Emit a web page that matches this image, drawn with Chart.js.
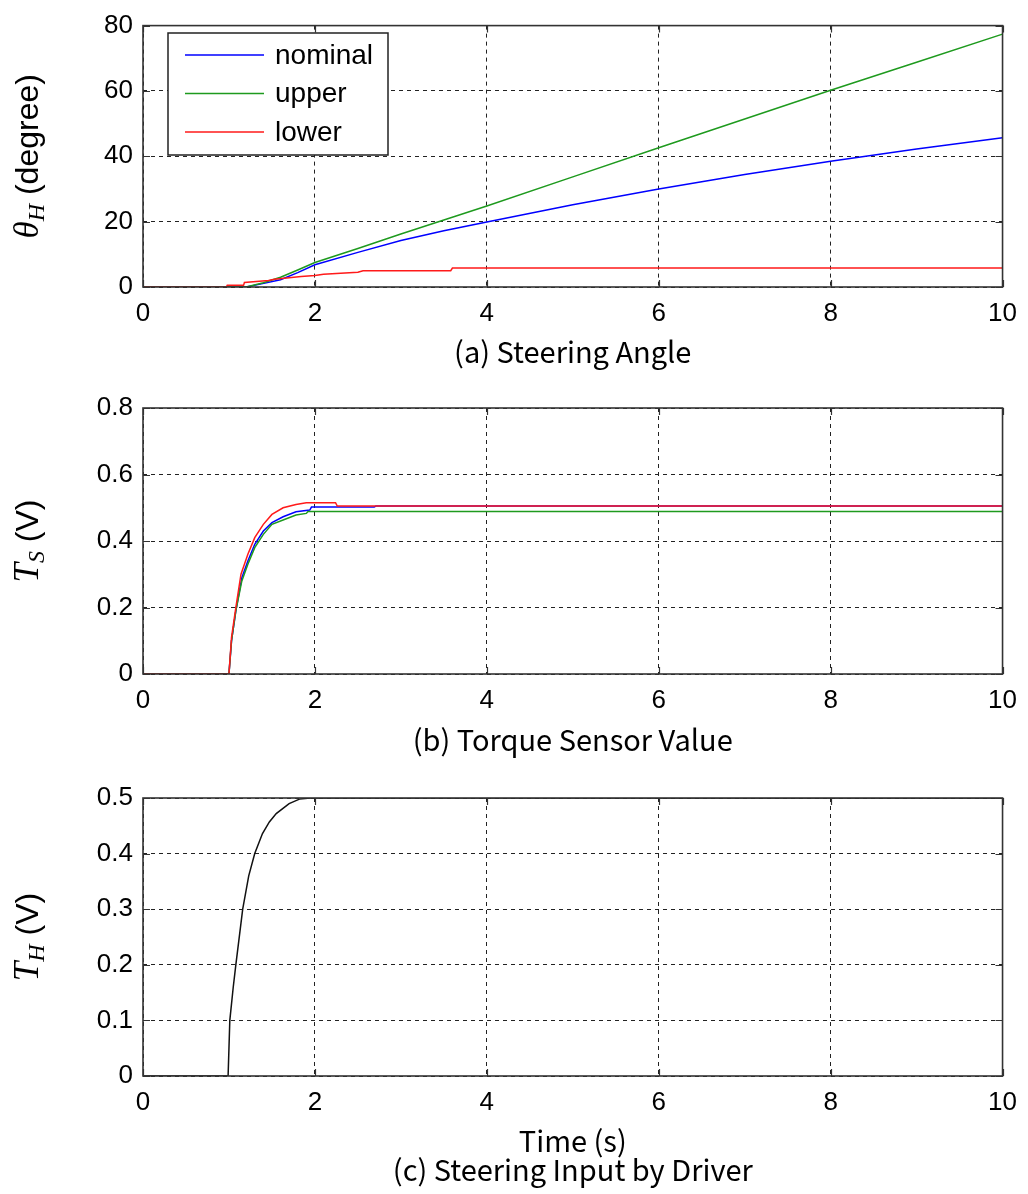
<!DOCTYPE html>
<html>
<head>
<meta charset="utf-8">
<script src="https://cdn.jsdelivr.net/npm/chart.js@4.4.1/dist/chart.umd.min.js"></script>
<style>
  body { margin: 0; background: #fff; }
  #wrap { position: relative; width: 1028px; height: 1194px; }
  #wrap canvas { position: absolute; left: 0; }
</style>
</head>
<body>
<div id="wrap">
  <canvas id="angle" width="1028" height="380" style="top:0px"></canvas>
  <canvas id="sensor" width="1028" height="380" style="top:380px"></canvas>
  <canvas id="input" width="1028" height="434" style="top:760px"></canvas>
</div>
<script>
// shared time axis (s)
const timeMin = 0, timeMax = 10, timeStep = 2;

// (a) steering angle theta_H (degree)
const angleNomT = [0, 1.2, 1.35, 1.6, 1.8, 2, 2.5, 3, 3.5, 4, 5, 6, 7, 8, 9, 10];
const angleNomV = [0, 0, 0.8, 2.2, 4.4, 6.8, 10.6, 14.2, 17.2, 19.9, 25.2, 30.0, 34.4, 38.5, 42.2, 45.7];
const angleUpT = [0, 1.2, 1.4, 1.6, 1.8, 2, 2.5, 3, 3.5, 4, 5, 6, 7, 8, 9, 10];
const angleUpV = [0, 0, 1.3, 3.0, 5.2, 7.5, 11.8, 16.2, 20.5, 24.8, 33.7, 42.6, 51.4, 60.2, 68.8, 77.4];
const angleLowT = [0, 0.97, 0.98, 1.17, 1.18, 1.46, 1.53, 1.84, 2.0, 2.1, 2.5, 2.56, 3.58, 3.6, 10];
const angleLowV = [0, 0, 0.5, 0.5, 1.4, 2.0, 2.4, 3.2, 3.5, 3.9, 4.5, 5.0, 5.0, 5.8, 5.8];

// (b) torque sensor value T_S (V)
const sensNomT = [0, 1.0, 1.03, 1.08, 1.15, 1.22, 1.3, 1.4, 1.5, 1.63, 1.78, 1.94, 1.96, 2.69, 2.71, 10];
const sensNomV = [0, 0, 0.1, 0.19, 0.29, 0.34, 0.39, 0.43, 0.455, 0.473, 0.488, 0.493, 0.502, 0.502, 0.505, 0.505];
const sensUpT = [0, 1.0, 1.03, 1.08, 1.15, 1.22, 1.3, 1.4, 1.5, 1.63, 1.78, 1.9, 1.92, 10];
const sensUpV = [0, 0, 0.1, 0.19, 0.28, 0.33, 0.38, 0.42, 0.45, 0.463, 0.478, 0.483, 0.489, 0.489];
const sensLowT = [0, 1.0, 1.03, 1.08, 1.14, 1.22, 1.3, 1.4, 1.5, 1.63, 1.78, 1.9, 2.24, 2.26, 10];
const sensLowV = [0, 0, 0.11, 0.2, 0.3, 0.36, 0.41, 0.45, 0.48, 0.50, 0.51, 0.515, 0.515, 0.505, 0.505];

// (c) steering input by driver T_H (V)
const inputT = [0, 0.99, 1.01, 1.05, 1.08, 1.16, 1.23, 1.3, 1.39, 1.47, 1.55, 1.7, 1.82, 1.95, 10];
const inputV = [0, 0, 0.1, 0.16, 0.2, 0.3, 0.36, 0.4, 0.436, 0.457, 0.472, 0.49, 0.498, 0.5, 0.5];

const seriesNames = ['nominal', 'upper', 'lower'];
const seriesColors = ['#0000ff', '#1e9a1e', '#ff1a1a'];

const tickFont = { family: '"Liberation Sans", Arial, sans-serif', size: 26 };
const capFont = '29px "Noto Sans CJK JP", sans-serif';

function pts(ts, vs) {
  return ts.map((t, i) => ({ x: t, y: vs[i] }));
}

function line(label, data, color, order) {
  return {
    label, data, order,
    borderColor: color, borderWidth: 1.5,
    pointRadius: 0, tension: 0, fill: false
  };
}

// rotated axis title made of several font runs (subscripts etc.)
function drawRich(ctx, runs, cx, cy) {
  let w = 0;
  runs.forEach(r => { ctx.font = r[1]; w += ctx.measureText(r[0]).width; });
  ctx.save();
  ctx.translate(cx, cy);
  ctx.rotate(-Math.PI / 2);
  ctx.textBaseline = 'middle';
  ctx.textAlign = 'left';
  let x = -w / 2;
  runs.forEach(r => {
    ctx.font = r[1];
    ctx.fillText(r[0], x, r[2]);
    x += ctx.measureText(r[0]).width;
  });
  ctx.restore();
}

const decor = {
  id: 'decor',
  afterDraw(chart, args, o) {
    const { ctx, chartArea: a, scales } = chart;
    ctx.save();
    ctx.strokeStyle = '#333';
    ctx.lineWidth = 1.2;
    ctx.beginPath();
    scales.x.ticks.forEach(t => {
      const px = Math.round(scales.x.getPixelForValue(t.value)) + 0.5;
      ctx.moveTo(px, a.bottom); ctx.lineTo(px, a.bottom - 7);
      ctx.moveTo(px, a.top); ctx.lineTo(px, a.top + 7);
    });
    scales.y.ticks.forEach(t => {
      const py = Math.round(scales.y.getPixelForValue(t.value)) + 0.5;
      ctx.moveTo(a.left, py); ctx.lineTo(a.left + 7, py);
      ctx.moveTo(a.right, py); ctx.lineTo(a.right - 7, py);
    });
    ctx.stroke();
    ctx.lineWidth = 1.6;
    ctx.strokeRect(a.left, a.top, a.right - a.left, a.bottom - a.top);

    if (o.legend) {
      const lx = 168, ly = 33, lw = 220, lh = 122;
      ctx.fillStyle = '#fff';
      ctx.fillRect(lx, ly, lw, lh);
      ctx.strokeStyle = '#222';
      ctx.lineWidth = 1.5;
      ctx.strokeRect(lx, ly, lw, lh);
      ctx.font = '28px "Liberation Sans", Arial, sans-serif';
      ctx.textBaseline = 'middle';
      ctx.textAlign = 'left';
      chart.data.datasets.forEach((ds, i) => {
        const y = 55 + i * 38.5;
        ctx.strokeStyle = ds.borderColor;
        ctx.lineWidth = 1.5;
        ctx.beginPath();
        ctx.moveTo(185, y); ctx.lineTo(264, y);
        ctx.stroke();
        ctx.fillStyle = '#000';
        ctx.fillText(ds.label, 275, y + 1);
      });
    }

    ctx.fillStyle = '#000';
    drawRich(ctx, o.title, 29, (a.top + a.bottom) / 2);

    ctx.font = capFont;
    ctx.textAlign = 'center';
    ctx.textBaseline = 'middle';
    const cx = (a.left + a.right) / 2;
    if (o.xTitle) ctx.fillText(o.xTitle, cx, o.xTitleY);
    ctx.fillText(o.caption, cx, o.captionY);
    ctx.restore();
  }
};

function makePanel(id, datasets, yMax, yStep, top, bottom, deco) {
  const h = document.getElementById(id).height;
  return new Chart(document.getElementById(id), {
    type: 'line',
    data: { datasets },
    options: {
      responsive: false,
      animation: false,
      devicePixelRatio: 1,
      layout: { padding: { left: 0, right: 22, top: top, bottom: 0 } },
      scales: {
        x: {
          type: 'linear', min: timeMin, max: timeMax,
          ticks: { stepSize: timeStep, color: '#000', font: tickFont, padding: 11, maxRotation: 0 },
          grid: { color: '#222', lineWidth: 1, drawTicks: false },
          border: { display: false, dash: [4, 4] },
          afterFit(s) { s.height = h - bottom; }
        },
        y: {
          min: 0, max: yMax,
          ticks: { stepSize: yStep, color: '#000', font: tickFont, padding: 10 },
          grid: { color: '#222', lineWidth: 1, drawTicks: false },
          border: { display: false, dash: [4, 4] },
          afterFit(s) { s.width = 143; }
        }
      },
      plugins: {
        legend: { display: false },
        tooltip: { enabled: false },
        decor: deco
      }
    },
    plugins: [decor]
  });
}

const serif = 'italic 35px "Liberation Serif", "DejaVu Serif", serif';
const serifSub = 'italic 24px "Liberation Serif", "DejaVu Serif", serif';
const sans = '32px "Liberation Sans", Arial, sans-serif';

makePanel('angle', [
  line(seriesNames[0], pts(angleNomT, angleNomV), seriesColors[0], 2),
  line(seriesNames[1], pts(angleUpT, angleUpV), seriesColors[1], 1),
  line(seriesNames[2], pts(angleLowT, angleLowV), seriesColors[2], 0)
], 80, 20, 23, 287, {
  legend: true,
  title: [['\u03b8', serif, 0], ['H', serifSub, 9], [' (degree)', sans, 0]],
  caption: '(a) Steering Angle', captionY: 352
});

makePanel('sensor', [
  line(seriesNames[0], pts(sensNomT, sensNomV), seriesColors[0], 2),
  line(seriesNames[1], pts(sensUpT, sensUpV), seriesColors[1], 1),
  line(seriesNames[2], pts(sensLowT, sensLowV), seriesColors[2], 0)
], 0.8, 0.2, 28, 294, {
  title: [['T', serif, 0], ['S', serifSub, 9], [' (V)', sans, 0]],
  caption: '(b) Torque Sensor Value', captionY: 360
});

makePanel('input', [
  line('input', pts(inputT, inputV), '#111', 0)
], 0.5, 0.1, 38, 316, {
  title: [['T', serif, 0], ['H', serifSub, 9], [' (V)', sans, 0]],
  xTitle: 'Time (s)', xTitleY: 381,
  caption: '(c) Steering Input by Driver', captionY: 410
});
</script>
</body>
</html>
